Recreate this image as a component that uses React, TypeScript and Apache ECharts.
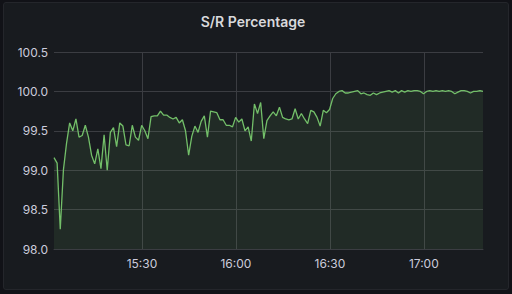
import React, { useEffect, useRef } from "react";
import * as echarts from "echarts";

const TITLE = "S/R Percentage";
const START = [2024, 0, 1, 15, 1, 54];
const STEP_MIN = 1;
const values: number[] = [
  99.16, 99.09, 98.25, 99.0, 99.34, 99.6, 99.5, 99.65, 99.42, 99.44,
  99.57, 99.42, 99.19, 99.08, 99.27, 99.02, 99.45, 99.0, 99.48, 99.54,
  99.3, 99.6, 99.56, 99.32, 99.31, 99.57, 99.42, 99.38, 99.57, 99.5,
  99.4, 99.68, 99.69, 99.69, 99.75, 99.7, 99.7, 99.67, 99.65, 99.67,
  99.6, 99.64, 99.5, 99.19, 99.43, 99.56, 99.48, 99.62, 99.69, 99.42,
  99.75, 99.74, 99.73, 99.64, 99.64, 99.57, 99.57, 99.55, 99.67, 99.61,
  99.65, 99.5, 99.55, 99.37, 99.84, 99.72, 99.86, 99.4, 99.63, 99.69,
  99.74, 99.69, 99.8, 99.67, 99.65, 99.64, 99.65, 99.78, 99.65, 99.72,
  99.65, 99.59, 99.76, 99.74, 99.67, 99.56, 99.76, 99.73, 99.77, 99.91,
  99.97, 100.0, 100.01, 99.98, 99.98, 99.99, 100.0, 100.01, 99.97, 99.98,
  99.96, 99.95, 99.98, 99.96, 99.98, 99.99, 100.0, 100.01, 99.99, 100.01,
  99.98, 100.01, 99.99, 100.01, 100.0, 100.01, 100.01, 100.0, 99.97, 100.0,
  100.01, 100.0, 100.01, 100.0, 100.01, 100.0, 100.01, 100.0, 99.97, 99.99,
  100.01, 100.01, 100.0, 99.98, 100.0, 100.0, 100.01, 100.0,
];
const Y_MIN = 98.0;
const Y_MAX = 100.5;
const Y_INTERVAL = 0.5;

const pad = (n: number) => (n < 10 ? "0" + n : "" + n);

export default function App() {
  const ref = useRef<HTMLDivElement>(null);
  useEffect(() => {
    document.body.style.margin = "0";
    if (!ref.current) return;
    const chart = echarts.init(ref.current, undefined, { renderer: "svg" });
    const t0 = new Date(START[0], START[1], START[2], START[3], START[4], START[5]).getTime();
    const data = values.map((v, i) => [t0 + i * STEP_MIN * 60000, v]);
    const tEnd = t0 + (values.length - 1) * STEP_MIN * 60000;
    chart.setOption({
      animation: false,
      backgroundColor: "transparent",
      title: {
        text: TITLE,
        left: 244,
        top: 6,
        textAlign: "center",
        textStyle: {
          color: "#d8d9dc",
          fontFamily: "Inter",
          fontSize: 14,
          fontWeight: 600,
        },
      },
      grid: { left: 50, right: 25, top: 49, bottom: 40 },
      xAxis: {
        type: "time",
        min: t0,
        max: tEnd,
        splitNumber: 4,
        axisLine: { show: true, lineStyle: { color: "#3b3d42" } },
        axisTick: { show: false },
        splitLine: {
          show: true,
          showMinLine: false,
          showMaxLine: false,
          lineStyle: { color: "#3b3d42", width: 1 },
        },
        axisLabel: {
          color: "#ccccdc",
          fontFamily: "Inter",
          fontSize: 12,
          margin: 8,
          showMinLabel: false,
          showMaxLabel: false,
          formatter: (val: number) => {
            const d = new Date(val);
            return pad(d.getHours()) + ":" + pad(d.getMinutes());
          },
        },
      },
      yAxis: {
        type: "value",
        min: Y_MIN,
        max: Y_MAX,
        interval: Y_INTERVAL,
        axisLine: { show: false },
        axisTick: { show: false },
        splitLine: { show: true, lineStyle: { color: "#3b3d42", width: 1 } },
        axisLabel: {
          color: "#ccccdc",
          fontFamily: "Inter",
          fontSize: 12,
          margin: 6,
          formatter: (v: number) => v.toFixed(1),
        },
      },
      series: [
        {
          type: "line",
          data,
          showSymbol: false,
          symbol: "none",
          lineStyle: { color: "#73bf69", width: 1.3 },
          areaStyle: { color: "#73bf69", opacity: 0.1, origin: "start" },
        },
      ],
    });
    return () => chart.dispose();
  }, []);
  return (
    <div style={{ width: 512, height: 294, background: "#111217", position: "relative", overflow: "hidden" }}>
      <div
        style={{
          position: "absolute",
          left: 3,
          top: 2,
          width: 504,
          height: 286,
          background: "#181b1f",
          border: "1px solid #24262b",
          borderRadius: 3,
        }}
      >
        <div ref={ref} style={{ width: 504, height: 286 }} />
      </div>
    </div>
  );
}
